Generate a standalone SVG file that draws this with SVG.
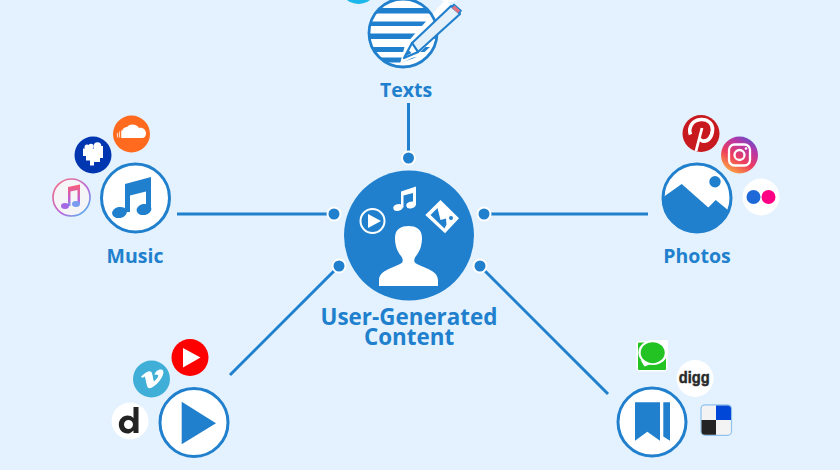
<svg xmlns="http://www.w3.org/2000/svg" width="840" height="470" viewBox="0 0 840 470">
<defs>
<style>
.bg{fill:#e3f2fe}
.lbl{font-family:"Open Sans","Noto Sans",sans-serif;font-weight:700;font-size:19.5px;fill:#2180cd;text-anchor:middle}
.ring{fill:#fff;stroke:#2180cd;stroke-width:3}
.blue{fill:#2180cd}
.wht{fill:#fff}
.conn line{stroke:#2180cd;stroke-width:3}
.conn circle{fill:#2180cd;stroke:#fff;stroke-width:2}
</style>
<linearGradient id="ig" x1="0.2" y1="1" x2="0.8" y2="0"><stop offset="0" stop-color="#fdb13c"/><stop offset="0.4" stop-color="#ee3d5c"/><stop offset="0.75" stop-color="#b736a8"/><stop offset="1" stop-color="#5b51c9"/></linearGradient>
<linearGradient id="it" x1="0.8" y1="0" x2="0.2" y2="1"><stop offset="0" stop-color="#fb5c74"/><stop offset="1" stop-color="#a25be0"/></linearGradient>
<linearGradient id="it2" x1="0.5" y1="0" x2="0.5" y2="1"><stop offset="0" stop-color="#fb5c74"/><stop offset="0.7" stop-color="#c060d8"/><stop offset="1" stop-color="#6aa0f0"/></linearGradient>
<linearGradient id="itr" x1="0" y1="0" x2="1" y2="1"><stop offset="0" stop-color="#fa6f7a"/><stop offset="0.6" stop-color="#b56be0"/><stop offset="1" stop-color="#3cc8f0"/></linearGradient>
<clipPath id="tc"><circle cx="403" cy="33" r="33.5"/></clipPath>
<clipPath id="pc"><circle cx="697" cy="198" r="34"/></clipPath>
</defs>
<rect class="bg" width="840" height="470"/>
<g id="connectors" class="conn">
<line x1="408.500" y1="103" x2="408.500" y2="158"/>
<line x1="177" y1="214" x2="334" y2="214"/>
<line x1="648" y1="214" x2="484" y2="214"/>
<line x1="230" y1="375" x2="339" y2="266"/>
<line x1="608" y1="394" x2="480" y2="266"/>
<circle cx="408.500" cy="158" r="6.500"/>
<circle cx="334" cy="214" r="6.500"/>
<circle cx="484" cy="214" r="6.500"/>
<circle cx="339" cy="266" r="6.500"/>
<circle cx="480" cy="266" r="6.500"/>
</g>
<g id="center">
<circle class="blue" cx="409" cy="235.500" r="65"/>
<circle cx="372.500" cy="221" r="12" fill="none" stroke="#fff" stroke-width="2"/>
<path class="wht" d="M368 214L381 221L368 228Z"/>
<path class="wht" d="M401 191.500L416 186.500V205H413V193L403.500 195.500V207.500H401Z"/>
<ellipse class="wht" cx="398" cy="207.500" rx="4.800" ry="3.300" transform="rotate(-15 398 207.500)"/>
<ellipse class="wht" cx="411" cy="205" rx="4.800" ry="3.300" transform="rotate(-15 411 205)"/>
<path class="wht" d="M440.500 200L459 218.300L445 233.300L425.300 215Z"/>
<path class="blue" d="M431 215.500L441 205L454.500 218L447 226L444 223.500L442.500 225L440 224.500Z" fill-opacity="0"/>
<path class="blue" d="M430.500 215L437.500 208L440.500 220L446 218.500L446.500 224.500L444.500 228.500Z"/>
<circle class="blue" cx="451" cy="218" r="2"/>
<path class="wht" d="M379 286V280C379 271 392 268 400 264C404 262 403 259 401 256C396 250 395 243 395 238C395 229 401 226 408.500 226C416 226 422 229 422 238C422 243 421 250 416 256C414 259 413 262 417 264C425 268 438 271 438 280V286Z"/>
<text class="lbl" style="font-size:22.400px"><tspan x="409" y="325">User-Generated</tspan><tspan x="409" y="345">Content</tspan></text>
</g>
<g id="texts">
<circle cx="358.500" cy="-14.500" r="18.500" fill="#1cb7eb"/>
<circle cx="449" cy="-16.500" r="18.500" fill="#fff"/>
<circle cx="403" cy="33" r="34" class="wht"/>
<g clip-path="url(#tc)" class="blue"><rect x="368" y="8" width="70" height="5.500"/><rect x="368" y="21.500" width="70" height="4.500"/><rect x="368" y="33.500" width="70" height="5.500"/><rect x="368" y="47" width="70" height="5"/><rect x="368" y="57.500" width="70" height="5"/></g>
<path class="wht" d="M400 64L416 56L462 12L445 0L405 45Z"/>
<path class="wht" clip-path="url(#tc)" d="M403 62L420 56L440 38V70H403Z"/>
<circle cx="403" cy="33" r="34" fill="none" stroke="#2180cd" stroke-width="2.800"/>
<path d="M412 43L451 6L460 14L418 52Z" fill="#e4f1fb" stroke="#2180cd" stroke-width="2.200" stroke-linejoin="round"/>
<path d="M404 58L412 43L418 52Z" fill="#fff" stroke="#2180cd" stroke-width="2.200" stroke-linejoin="round"/>
<path d="M406 56L408.500 50L411.500 53Z" fill="#2180cd"/>
<path d="M451 6L454 3.500L462 10.500L460 14Z" fill="#2180cd"/>
<path d="M452.500 8L454.500 6L459.500 10.500L458 12.500Z" fill="#e8717c" stroke="#e8717c"/>
<text class="lbl" x="406" y="97">Texts</text>
</g>
<g id="music">
<circle cx="131.500" cy="134" r="18.500" fill="#ff6a1f"/>
<path class="wht" d="M122 138V131C123 128 125 127 127 127C130 123 137 124 139 128C143 127 146 130 146 133.500C146 136.500 144 138 142 138Z"/>
<path d="M117.500 137.500V133M119.500 137.500V131.500" stroke="#fff" stroke-width="1.200" stroke-opacity=".7"/>
<rect x="121" y="130.500" width="1.500" height="7.500" fill="#fff" fill-opacity=".8"/>
<circle cx="93" cy="155" r="18.500" fill="#0036b0"/>
<path class="wht" d="M83 148.500H94L95 146H103V158H100V162H94V165.500H90V160.500H86V156H83Z"/>
<circle class="wht" cx="83.500" cy="147" r="0"/>
<circle class="wht" cx="87" cy="147" r="2.500"/>
<circle class="wht" cx="91" cy="146.500" r="2.700"/>
<circle class="wht" cx="97.500" cy="146" r="3.800"/>
<circle cx="71.500" cy="197.500" r="18.500" fill="#f5f5f7" stroke="url(#itr)" stroke-width="1.700"/>
<path d="M68 187L80 184.500V204H77.500V190L70.500 191.500V206H68Z" fill="url(#it2)"/>
<ellipse cx="65" cy="206" rx="4" ry="3" fill="#a468e6"/>
<ellipse cx="76" cy="204" rx="4" ry="3" fill="#7a9cf0"/>
<circle class="ring" cx="135.500" cy="198" r="34"/>
<path class="blue" d="M125 184L151 177V210H146V191.500L130 195.500V212H125Z"/>
<ellipse class="blue" cx="119.500" cy="212.500" rx="7.500" ry="5.500" transform="rotate(-12 119.500 212.500)"/>
<ellipse class="blue" cx="144" cy="209.500" rx="7.500" ry="5.500" transform="rotate(-12 144 209.500)"/>
<text class="lbl" x="135" y="263">Music</text>
</g>
<g id="photos">
<circle cx="701" cy="133.500" r="18.500" fill="#c8191f"/>
<path d="M690.500 134.500C688 128 692 120 701 119.500C708 119 713 124 712.500 130C712 137 708 142 702.500 141C701 140.500 700 139.500 699.500 138.500" fill="none" stroke="#fff" stroke-width="3.600"/>
<path d="M702 128L696 151" fill="none" stroke="#fff" stroke-width="2.800"/>
<circle cx="739.500" cy="155" r="18.500" fill="url(#ig)"/>
<rect x="729" y="144.500" width="21" height="21" rx="5.500" fill="none" stroke="#fff" stroke-width="2.300"/>
<circle cx="739.500" cy="155" r="5" fill="none" stroke="#fff" stroke-width="2.300"/>
<circle cx="746" cy="148.500" r="1.300" class="wht"/>
<circle cx="761" cy="197" r="18.500" class="wht"/>
<circle cx="753.500" cy="197" r="7" fill="#1f68d8"/>
<circle cx="768.500" cy="197" r="7" fill="#ff0084"/>
<circle class="ring" cx="697" cy="198" r="34"/>
<path class="blue" clip-path="url(#pc)" d="M662 198L681.700 184L708.300 207.500L715.700 200L733 214V236H660Z"/>
<circle class="blue" cx="715" cy="181.700" r="5.700"/>
<text class="lbl" x="697" y="263">Photos</text>
</g>
<g id="video">
<circle cx="190" cy="357.500" r="18.500" fill="#ff0000"/>
<path class="wht" d="M183 348L200.500 357.500L183 367.500Z"/>
<circle cx="151.500" cy="379" r="18.500" fill="#3fafd8"/>
<path class="wht" d="M141 376.500C145 373 148 370.500 150.500 371.500C153 372.500 152.500 378 154 381.500C157 379 159 376 158 375C156 374 155 374.500 154.500 375C155 371.500 158.500 369 161.500 369.500C165 370.500 163.500 376 159 381.500C155 386 151 389 148.500 388C146 386.500 146 378 144.500 376.500L142.500 378Z"/>
<circle cx="130" cy="421" r="18.500" class="wht"/>
<path d="M133.500 407H138.500V433H133.500V430.500C131 433 129 433.500 127.500 433.500C122.500 433.500 118.800 429.500 118.800 424.500C118.800 419.500 122.500 415.500 127.500 415.500C129.500 415.500 132 416.300 133.500 418ZM128.500 420A4.500 4.500 0 1 0 128.500 429A4.500 4.500 0 1 0 128.500 420Z" fill="#232323" fill-rule="evenodd"/>
<circle class="ring" cx="194" cy="422.500" r="34"/>
<path class="blue" d="M181.700 401.700V444.300L216 423.300Z"/>
</g>
<g id="bookmarks">
<rect x="636.500" y="341" width="31" height="30.500" rx="3" fill="#fff"/>
<rect x="638" y="342.500" width="28" height="27.500" rx="1" fill="#22c322"/>
<ellipse cx="653" cy="352.500" rx="14.700" ry="12.500" fill="#fff"/>
<path class="wht" d="M655 340H668V356H658Z"/>
<ellipse cx="652.700" cy="352.700" rx="12" ry="10.500" fill="#22c322"/>
<path class="wht" d="M640.500 360L644.500 366.500L651 364Z"/>
<circle cx="695" cy="378.500" r="18.500" class="wht"/>
<text x="694.300" y="383" font-family="Liberation Sans,sans-serif" font-weight="700" font-size="17" fill="#2a2a2a" stroke="#2a2a2a" stroke-width=".5" text-anchor="middle" textLength="31" lengthAdjust="spacingAndGlyphs">digg</text>
<rect x="701" y="404.800" width="30.500" height="30.500" rx="4" fill="#f3f3f3" stroke="#8fc2ec" stroke-width="1.200"/>
<path d="M716 405.500H727.500A3.500 3.500 0 0 1 731 409V420H716Z" fill="#0047d8"/>
<path d="M701.500 420H716V434.800H705A3.500 3.500 0 0 1 701.500 431.300Z" fill="#232323"/>
<circle class="ring" cx="652" cy="422" r="34"/>
<path class="blue" d="M635 402.300V440.700L647.300 431.700L660 440.700V402.300ZM663.300 402.300H670V440.700L663.300 436.500Z"/>
</g>
</svg>
